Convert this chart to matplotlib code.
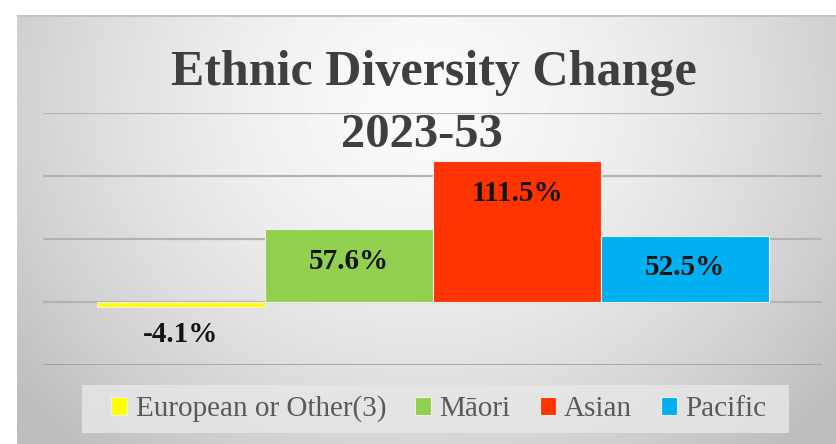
import matplotlib
matplotlib.use('Agg')
import matplotlib.pyplot as plt
from matplotlib.patches import Rectangle
import numpy as np

groups = ['European or Other(3)', 'Māori', 'Asian', 'Pacific']
change = [-4.1, 57.6, 111.5, 52.5]
labels = ['-4.1%', '57.6%', '111.5%', '52.5%']
colors = ['#FFFF00', '#92D050', '#FF3300', '#00B0F0']
title_lines = ['Ethnic Diversity Change', '2023-53']

plt.rcParams['font.family'] = ['Liberation Serif', 'DejaVu Serif']

W, H = 836, 444
fig = plt.figure(figsize=(W / 100, H / 100), dpi=100)
fig.patch.set_facecolor('white')

# grey radial background of the chart area
bg = fig.add_axes([17 / W, 0, 1 - 17 / W, 1 - 15 / H])
yy, xx = np.mgrid[0:1:300j, 0:1:600j]
r = np.sqrt(((xx - 0.5) / 0.55) ** 2 + ((yy - 0.2) / 0.95) ** 2)
shade = np.clip(250 - 48 * r ** 1.6, 190, 252) / 255.0
bg.imshow(shade, cmap='gray', vmin=0, vmax=1, aspect='auto',
          extent=(0, 1, 1, 0), interpolation='bilinear')
bg.axhline(0.002, color='#c4c4c4', lw=1.5)
bg.set_xlim(0, 1)
bg.set_ylim(1, 0)
bg.axis('off')

ax = fig.add_axes([43 / W, 1 - 364.5 / H, 779 / W, (364.5 - 113) / H])
ax.set_facecolor('none')
x = np.arange(len(groups))
ax.set_xlim(-0.5 - 54 / 168, len(groups) - 0.5 + 53 / 168)
ax.set_ylim(-50, 150)
for v in [0, 50, 100, 150]:
    ax.axhline(v, color='#b3b3b3', lw=1.6, zorder=0)
ax.axhline(-50, color='#9a9a9a', lw=1.8, zorder=0)

bars = ax.bar(x, change, width=1.0, color=colors, edgecolor='#eeeeee',
              linewidth=0.8, zorder=2)
for b, v, lab in zip(bars, change, labels):
    off = -32 if v > 0 else -28
    ax.annotate(lab, (b.get_x() + b.get_width() / 2, v),
                xytext=(0, off), textcoords='offset pixels',
                ha='center', va='center', fontsize=21, fontweight='bold',
                color='#141414', zorder=3)
for s in ax.spines.values():
    s.set_visible(False)
ax.set_xticks([])
ax.set_yticks([])

fig.text(434 / W, 1 - 85 / H, title_lines[0], ha='center', va='baseline',
         fontsize=36, fontweight='bold', color='#3f3f3f')
fig.text(422 / W, 1 - 147 / H, title_lines[1], ha='center', va='baseline',
         fontsize=35, fontweight='bold', color='#3f3f3f')

# legend box
fig.patches.append(Rectangle((82 / W, 1 - 433 / H), 707 / W, 48 / H,
                             transform=fig.transFigure,
                             facecolor='#e6e6e6', edgecolor='none', alpha=0.85))
leg = fig.legend(bars, groups, loc='center', bbox_to_anchor=(439 / W, 1 - 409 / H),
                 ncol=4, frameon=False, handlelength=0.55, handleheight=0.55,
                 handletextpad=0.28, columnspacing=1.0, fontsize=21)
for t in leg.get_texts():
    t.set_color('#595959')

plt.savefig('out.png', dpi=100)
